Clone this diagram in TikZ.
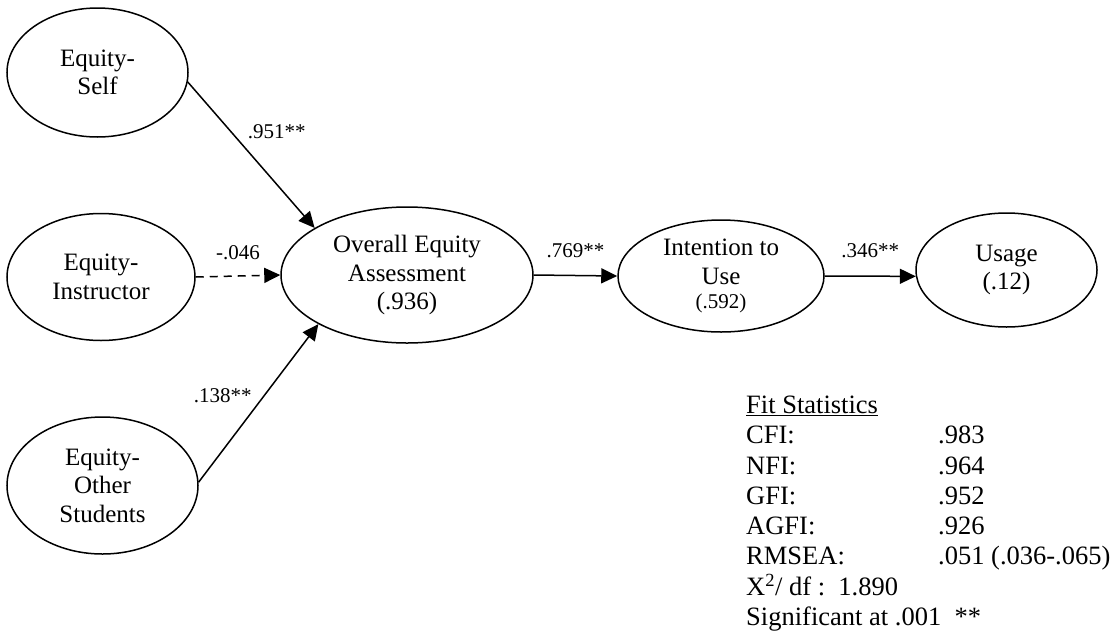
\documentclass[tikz,border=0pt]{standalone}
\usepackage{fontspec}
\setmainfont{Liberation Serif}
\usetikzlibrary{arrows.meta,shapes.geometric}
\begin{document}
\begin{tikzpicture}[x=1pt,y=-1pt,
  latent/.style={draw, ellipse, line width=1.5pt, inner sep=0pt, align=center,
    font=\fontsize{25}{28.5}\selectfont},
  regpath/.style={line width=1.5pt, -{Triangle[length=16pt,width=15pt]}},
  coef/.style={font=\fontsize{21}{24}\selectfont, inner sep=1pt}
]
\useasboundingbox (0,0) rectangle (1113,635);

% latent constructs
\node[latent, minimum width=181pt, minimum height=129pt] (self)    at (97.5,72.5)  {Equity-\\Self};
\node[latent, minimum width=188pt, minimum height=127pt] (instr)   at (101,277)    {Equity-\\Instructor};
\node[latent, minimum width=191pt, minimum height=137pt] (other)   at (102.5,485.5){Equity-\\Other\\Students};
\node[latent, minimum width=252pt, minimum height=136pt] (overall) at (407,275)    {Overall Equity\\Assessment\\(.936)};
\node[latent, minimum width=206pt, minimum height=112pt] (intent)  at (721,276)
  {Intention to\\Use\\[-4pt]{\fontsize{21}{22}\selectfont (.592)}};
\node[latent, minimum width=181pt, minimum height=114pt] (usage)   at (1006.5,270) {Usage\\(.12)};

% structural paths
\draw[regpath] (self.-6) -- node[coef, pos=0.342, right=15pt] {.951**} (overall.153);
\draw[regpath, dash pattern=on 8pt off 6pt] (instr.east) -- node[coef, above=14pt] {-.046} (overall.west);
\draw[regpath] (other.2) -- node[coef, pos=0.549, left=11pt] {.138**} (overall.209);
\draw[regpath] (overall.east) -- node[coef, above=16pt] {.769**} (intent.west);
\draw[regpath] (intent.east) -- node[coef, above=17pt] {.346**} (usage.184);

% model fit summary
\node[anchor=north west, inner sep=0pt, font=\fontsize{26.5}{30.3}\selectfont] (fit) at (746,392) {%
  \begin{tabular}{@{}p{192pt}@{}l@{}}
    \underline{Fit Statistics} & \\
    CFI: & .983\\
    NFI: & .964\\
    GFI: & .952\\
    AGFI: & .926\\
    RMSEA: & .051 (.036-.065)\\
    \multicolumn{2}{@{}l}{X\textsuperscript{2}/ df :\ \ 1.890}\\
    \multicolumn{2}{@{}l}{Significant at .001\ \ **}
  \end{tabular}};
\end{tikzpicture}
\end{document}
